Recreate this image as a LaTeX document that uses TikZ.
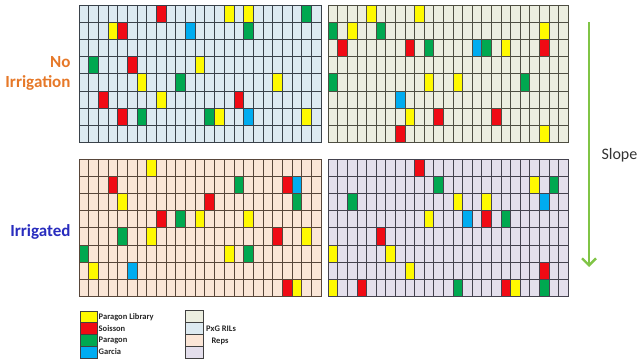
\documentclass[tikz,border=0pt]{standalone}
\usepackage{fontspec}
\setmainfont{Carlito}
\usetikzlibrary{arrows.meta,positioning}
\definecolor{plotblue}{RGB}{221,234,241}
\definecolor{plotgreen}{RGB}{236,238,224}
\definecolor{plotpeach}{RGB}{251,230,215}
\definecolor{plotlilac}{RGB}{228,223,236}
\definecolor{lineblue}{RGB}{58,66,74}
\definecolor{linegreen}{RGB}{78,78,66}
\definecolor{linepeach}{RGB}{88,70,58}
\definecolor{linelilac}{RGB}{68,66,78}
\definecolor{cyellow}{RGB}{255,250,0}
\definecolor{cred}{RGB}{240,10,20}
\definecolor{cgreen}{RGB}{0,168,80}
\definecolor{cblue}{RGB}{0,172,240}
\definecolor{noirrorange}{RGB}{230,120,40}
\definecolor{irrblue}{RGB}{40,44,190}
\definecolor{slopegreen}{RGB}{128,196,70}
\tikzset{
  gridline/.style={line width=1pt},
  swatch/.style={draw=black!75,line width=0.6pt},
  legtext/.style={font=\bfseries\fontsize{8.5}{10}\selectfont,text=black!85,inner sep=1pt}
}
% 25 x 8 plot lines, drawn in the scope's cell units
\newcommand{\plotlines}[1]{%
  \foreach \i in {0,...,25} \draw[gridline,#1] (\i,0) -- (\i,8);
  \foreach \j in {0,...,8} \draw[gridline,#1] (0,\j) -- (25,\j);
}

\begin{document}
\begin{tikzpicture}[x=1pt,y=-1pt]
  \useasboundingbox (0,0) rectangle (639,359);

  % no irrigation, left block
  \begin{scope}[shift={(79,5)},x=9.69pt,y=-17.2pt]
    \fill[plotblue] (0,0) rectangle (25,8);
    \foreach \c/\r in {15/0,17/0,3/1,12/3,6/4,20/4,8/5,14/6,23/6} \fill[cyellow] (\c,\r) rectangle ++(1,1);
    \foreach \c/\r in {8/0,4/1,5/3,2/5,16/5,4/6} \fill[cred] (\c,\r) rectangle ++(1,1);
    \foreach \c/\r in {23/0,17/1,1/3,10/4,6/6,13/6} \fill[cgreen] (\c,\r) rectangle ++(1,1);
    \foreach \c/\r in {11/1,17/6} \fill[cblue] (\c,\r) rectangle ++(1,1);
    \plotlines{lineblue}
  \end{scope}

  % no irrigation, right block
  \begin{scope}[shift={(328.3,5)},x=9.6pt,y=-17.2pt]
    \fill[plotgreen] (0,0) rectangle (25,8);
    \foreach \c/\r in {4/0,9/0,2/1,22/1,18/2,10/4,13/4,8/6,22/7} \fill[cyellow] (\c,\r) rectangle ++(1,1);
    \foreach \c/\r in {1/2,8/2,22/2,11/6,17/6,7/7} \fill[cred] (\c,\r) rectangle ++(1,1);
    \foreach \c/\r in {0/1,5/1,10/2,16/2,0/4,20/4} \fill[cgreen] (\c,\r) rectangle ++(1,1);
    \foreach \c/\r in {15/2,7/5} \fill[cblue] (\c,\r) rectangle ++(1,1);
    \plotlines{linegreen}
  \end{scope}

  % irrigated, left block
  \begin{scope}[shift={(79,159)},x=9.69pt,y=-17.2pt]
    \fill[plotpeach] (0,0) rectangle (25,8);
    \foreach \c/\r in {7/0,4/2,12/3,17/3,7/4,23/4,15/5,1/6,22/7} \fill[cyellow] (\c,\r) rectangle ++(1,1);
    \foreach \c/\r in {3/1,21/1,13/2,8/3,20/4,21/7} \fill[cred] (\c,\r) rectangle ++(1,1);
    \foreach \c/\r in {16/1,22/2,10/3,4/4,0/5,17/5} \fill[cgreen] (\c,\r) rectangle ++(1,1);
    \foreach \c/\r in {22/1,5/6} \fill[cblue] (\c,\r) rectangle ++(1,1);
    \plotlines{linepeach}
  \end{scope}

  % irrigated, right block
  \begin{scope}[shift={(328.3,159)},x=9.6pt,y=-17.2pt]
    \fill[plotlilac] (0,0) rectangle (25,8);
    \foreach \c/\r in {21/1,13/2,16/2,10/3,0/5,6/5,8/6,0/7,19/7} \fill[cyellow] (\c,\r) rectangle ++(1,1);
    \foreach \c/\r in {9/0,16/3,5/4,22/6,3/7,18/7} \fill[cred] (\c,\r) rectangle ++(1,1);
    \foreach \c/\r in {11/1,23/1,2/2,18/3,13/7,22/7} \fill[cgreen] (\c,\r) rectangle ++(1,1);
    \foreach \c/\r in {22/2,14/3} \fill[cblue] (\c,\r) rectangle ++(1,1);
    \plotlines{linelilac}
  \end{scope}

  % treatment labels
  \node[font=\bfseries\fontsize{17}{20}\selectfont,text=noirrorange,align=right,anchor=east] (noirr) at (74,73) {No\\Irrigation};
  \node[font=\bfseries\fontsize{17}{20}\selectfont,text=irrblue,anchor=east] (irr) at (74,232) {Irrigated};

  % slope
  \coordinate (slopetop) at (589,22);
  \coordinate (slopebot) at (589,267);
  \draw[slopegreen,line width=2.4pt,-{Straight Barb[length=7pt,width=14pt]}] (slopetop) -- (slopebot);
  \node[font=\fontsize{16}{19}\selectfont,text=black!80,anchor=west] (slope) at (598,155) {Slope};

  % legend
  \foreach \col/\lab [count=\k from 0] in {cyellow/Paragon Library,cred/Soisson,cgreen/Paragon,cblue/Garcia} {
    \draw[swatch,fill=\col] (80,311+\k*11.7) rectangle ++(17,11.7);
    \node[legtext,anchor=west] (leg\k) at (97.5,316.85+\k*11.7) {\lab};
  }
  \foreach \col [count=\k from 0] in {plotgreen,plotblue,plotpeach,plotlilac}
    \draw[swatch,fill=\col] (185,310+\k*12) rectangle ++(18,12);
  \node[legtext] (rils) at (221,329) {PxG RILs};
  \node[legtext] (reps) at (220,341) {Reps};
\end{tikzpicture}
\end{document}
